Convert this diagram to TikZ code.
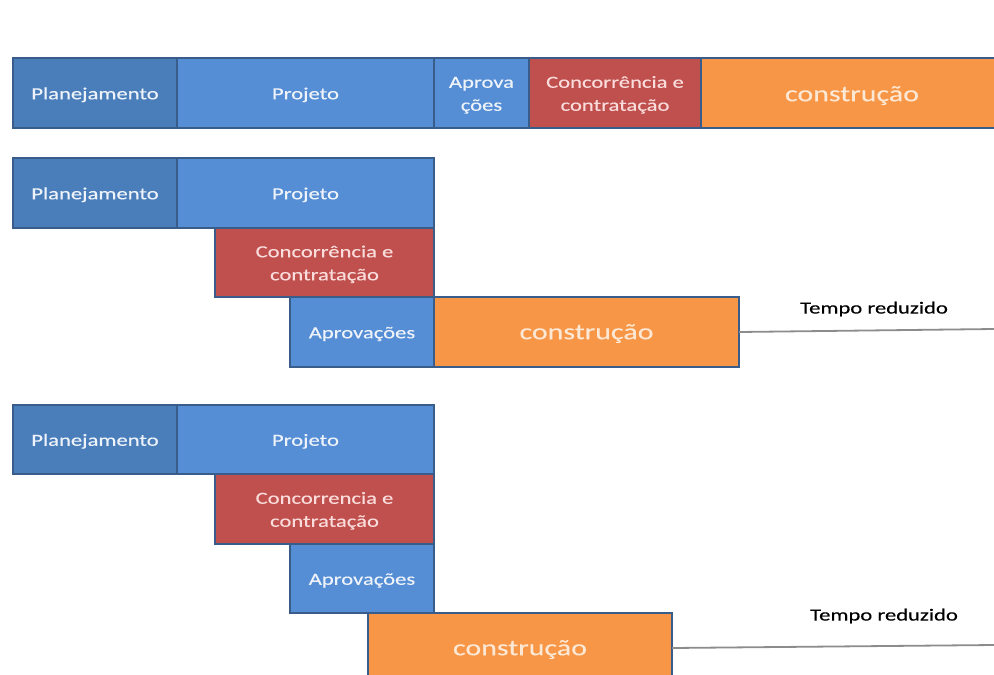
\documentclass[tikz,border=0pt]{standalone}
\usepackage{fontspec}
\setmainfont{Carlito}[FakeStretch=1.33, FakeBold=0.35]
\definecolor{planblue}{HTML}{4A7EBB}
\definecolor{projblue}{HTML}{558ED5}
\definecolor{concred}{HTML}{C0504D}
\definecolor{constor}{HTML}{F79646}
\definecolor{edgeblue}{HTML}{385D8A}
\definecolor{txtblue}{HTML}{EEF3FA}
\definecolor{txtred}{HTML}{F9DCDB}
\definecolor{txtor}{HTML}{FCE8D4}
\definecolor{linegray}{HTML}{8C8C8C}
\newcommand\phtext[2][6pt]{\raisebox{-#1}[0pt][0pt]{\begin{tabular}{@{}c@{}}#2\end{tabular}}}
\tikzset{
  phase/.style={draw=edgeblue, line width=1.5pt, inner sep=0pt, outer sep=0pt,
    font=\fontsize{17}{23}\selectfont, minimum height=70pt},
  plan/.style={phase, fill=planblue, text=txtblue, minimum width=164pt},
  proj/.style={phase, fill=projblue, text=txtblue, minimum width=257pt},
  aprov/.style={phase, fill=projblue, text=txtblue},
  conc/.style={phase, fill=concred, text=txtred},
  constr/.style={phase, fill=constor, text=txtor, font=\fontsize{22.5}{27}\selectfont},
  gapline/.style={draw=linegray, line width=1.8pt},
  gaplabel/.style={font=\fontsize{17}{20}\selectfont, text=black, inner sep=0pt}
}
\begin{document}
\begin{tikzpicture}[x=1pt, y=-1pt]
\useasboundingbox (0,0) rectangle (994,675);
% Row 1
\node[plan] (p1) at (95,93) {\phtext{Planejamento}};
\node[proj] (j1) at (305.5,93) {\phtext{Projeto}};
\node[aprov, minimum width=95pt] (a1) at (481.5,93) {\phtext{Aprova\\ções}};
\node[conc, minimum width=172pt] (c1) at (615,93) {\phtext{Concorrência e\\contratação}};
\node[constr, minimum width=302pt] (k1) at (852,93) {\phtext[8pt]{construção}};
% Row 2
\node[plan] (p2) at (95,193) {\phtext{Planejamento}};
\node[proj] (j2) at (305.5,193) {\phtext{Projeto}};
\node[conc, minimum width=219pt, minimum height=69pt] (c2) at (324.5,262.5) {\phtext{Concorrência e\\contratação}};
\node[aprov, minimum width=144pt] (a2) at (362,332) {\phtext{Aprovações}};
\node[constr, minimum width=305pt] (k2) at (586.5,332) {\phtext[7pt]{construção}};
\coordinate (e2) at (994,329);
\draw[gapline] (k2.east) -- (e2);
\node[gaplabel] (t2) at (874,309) {Tempo reduzido};
% Row 3
\node[plan, minimum height=69pt] (p3) at (95,439.5) {\phtext{Planejamento}};
\node[proj, minimum height=69pt] (j3) at (305.5,439.5) {\phtext{Projeto}};
\node[conc, minimum width=219pt] (c3) at (324.5,509) {\phtext{Concorrencia e\\contratação}};
\node[aprov, minimum width=144pt, minimum height=69pt] (a3) at (362,578.5) {\phtext{Aprovações}};
\node[constr, minimum width=304pt] (k3) at (520,648) {\phtext[7pt]{construção}};
\coordinate (e3) at (994,645);
\draw[gapline] (k3.east) -- (e3);
\node[gaplabel] (t3) at (884,616) {Tempo reduzido};
\end{tikzpicture}
\end{document}
